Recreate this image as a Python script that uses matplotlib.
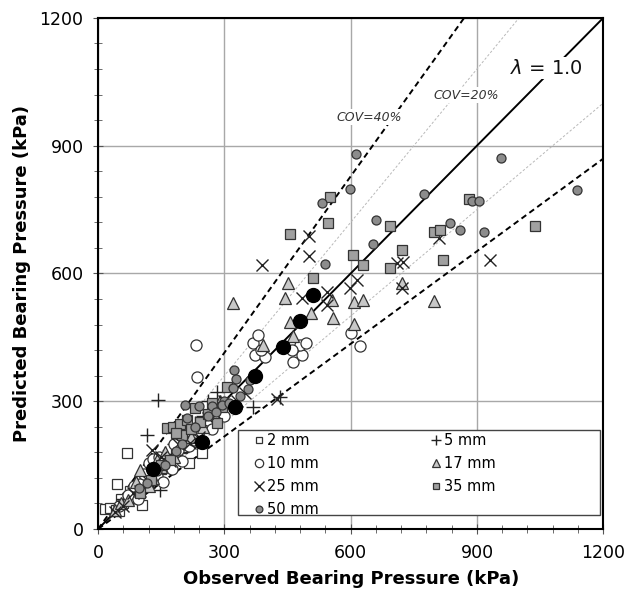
import numpy as np
import matplotlib.pyplot as plt
from matplotlib.ticker import MultipleLocator
from matplotlib.patches import Rectangle

# observed (x) / predicted (y) bearing pressure, kPa, per settlement level
x_2mm = [17, 29, 43, 50, 60, 44, 68, 104, 80, 95, 115, 130, 150, 170, 185, 200, 215, 246, 230, 140, 75, 55]
y_2mm = [46, 49, 44, 43, 60, 105, 179, 56, 75, 85, 100, 125, 140, 165, 175, 190, 154, 178, 205, 150, 90, 70]

x_5mm = [143, 116, 147, 282, 369, 432, 60, 75, 90, 100, 120, 160, 180, 190, 210, 230, 250, 200, 85, 262]
y_5mm = [303, 221, 92, 322, 287, 310, 70, 80, 95, 110, 125, 175, 200, 215, 230, 250, 265, 180, 75, 300]

x_10mm = [233, 234, 368, 381, 373, 397, 464, 484, 480, 494, 600, 623, 388, 460,
          50, 70, 85, 100, 110, 120, 130, 145, 160, 175, 190, 200, 215, 225, 240, 260, 270, 290, 300, 95, 140, 180, 155]
y_10mm = [432, 358, 436, 456, 409, 405, 393, 409, 432, 436, 460, 430, 420, 420,
          55, 80, 100, 105, 130, 155, 165, 170, 150, 140, 185, 160, 195, 210, 230, 255, 235, 280, 265, 70, 125, 200, 110]

x_17mm = [320, 450, 444, 555, 559, 608, 629, 608, 505, 455, 463, 391, 797, 722,
          40, 55, 71, 90, 100, 139, 120, 160, 180, 200, 220, 250, 270, 290, 150, 130]
y_17mm = [531, 577, 542, 538, 495, 534, 538, 481, 506, 485, 452, 432, 535, 577,
          45, 60, 68, 110, 139, 162, 100, 180, 170, 225, 215, 240, 290, 300, 145, 120]

x_25mm = [500, 500, 389, 811, 930, 710, 725, 722, 615, 599, 543, 543, 484,
          40, 60, 84, 100, 127, 150, 170, 190, 219, 240, 260, 280, 300, 330, 350, 120, 425]
y_25mm = [687, 640, 620, 683, 632, 624, 628, 565, 585, 565, 557, 526, 542,
          40, 55, 84, 90, 186, 170, 160, 200, 201, 215, 260, 270, 300, 300, 320, 110, 305]

x_35mm = [551, 547, 455, 694, 605, 629, 694, 722, 797, 813, 819, 880, 1038, 510,
          100, 163, 179, 195, 211, 242, 282, 294, 306, 171, 150, 125, 200, 220, 260, 230, 185, 270]
y_35mm = [780, 719, 692, 712, 643, 619, 612, 654, 697, 702, 632, 775, 712, 589,
          84, 236, 240, 246, 256, 252, 250, 287, 333, 162, 150, 115, 220, 235, 270, 285, 225, 295]

x_50mm = [613, 531, 599, 660, 775, 958, 888, 904, 835, 860, 917, 653, 539, 1137,
          98, 116, 185, 207, 240, 270, 211, 322, 328, 360, 337, 357, 300, 160, 140, 200, 230, 260, 280, 320, 295, 310]
y_50mm = [880, 765, 798, 726, 787, 870, 771, 771, 718, 702, 698, 669, 622, 796,
          96, 109, 182, 291, 289, 289, 260, 373, 352, 350, 312, 328, 300, 150, 135, 200, 240, 265, 275, 330, 290, 295]

# black filled circles (mean values)
x_mean = [131, 246, 326, 373, 439, 480, 510]
y_mean = [140, 205, 286, 359, 428, 489, 549]

lam40_hi, lam40_lo = 1.38, 1 / 1.38
lam20_hi, lam20_lo = 1.2, 1 / 1.2

fig = plt.figure(figsize=(6.29, 5.98), dpi=100)
ax = fig.add_axes([0.156, 0.1154, 0.803, 0.8546])

# reference lines
ax.plot([0, 1200 / lam20_hi], [0, 1200], color='#b8b8b8', lw=0.7, ls=(0, (2.5, 2)), zorder=2)
ax.plot([0, 1200], [0, 1200 * lam20_lo], color='#b8b8b8', lw=0.7, ls=(0, (2.5, 2)), zorder=2)
ax.plot([0, 1200 / lam40_hi], [0, 1200], color='black', lw=1.4, ls=(0, (3, 2)), zorder=2)
ax.plot([0, 1200], [0, 1200 * lam40_lo], color='black', lw=1.4, ls=(0, (3, 2)), zorder=2)
ax.plot([0, 1200], [0, 1200], color='black', lw=1.4, zorder=2)

ms = 6.5
ax.plot(x_2mm, y_2mm, 's', ms=ms, mfc='white', mec='#333333', mew=0.9, ls='none', label='2 mm', zorder=3)
ax.plot(x_5mm, y_5mm, '+', ms=10, mec='#222222', mew=1.0, ls='none', label='5 mm', zorder=3)
ax.plot(x_10mm, y_10mm, 'o', ms=8, mfc='white', mec='#333333', mew=0.9, ls='none', label='10 mm', zorder=3)
ax.plot(x_17mm, y_17mm, '^', ms=8, mfc='#c8c8c8', mec='#333333', mew=0.9, ls='none', label='17 mm', zorder=3)
ax.plot(x_25mm, y_25mm, 'x', ms=9, mec='#222222', mew=1.0, ls='none', label='25 mm', zorder=3)
ax.plot(x_35mm, y_35mm, 's', ms=ms, mfc='#a0a0a0', mec='#333333', mew=0.9, ls='none', label='35 mm', zorder=3)
ax.plot(x_50mm, y_50mm, 'o', ms=ms, mfc='#8c8c8c', mec='#333333', mew=0.9, ls='none', label='50 mm', zorder=3)
ax.plot(x_mean, y_mean, 'o', ms=10, mfc='black', mec='black', ls='none', zorder=4)

ax.set_xlim(0, 1200)
ax.set_ylim(0, 1200)
ax.xaxis.set_major_locator(MultipleLocator(300))
ax.yaxis.set_major_locator(MultipleLocator(300))
ax.xaxis.set_minor_locator(MultipleLocator(60))
ax.yaxis.set_minor_locator(MultipleLocator(60))
ax.grid(True, which='major', color='#a8a8a8', lw=1.0, zorder=0)
ax.set_axisbelow(True)
ax.tick_params(which='both', direction='inout', labelsize=12.5, color='#555555')
ax.tick_params(which='major', length=7, pad=7)
ax.tick_params(which='minor', length=6)
for sp in ax.spines.values():
    sp.set_linewidth(1.5)

ax.set_xlabel('Observed Bearing Pressure (kPa)', fontsize=13, fontweight='bold', labelpad=6)
ax.set_ylabel('Predicted Bearing Pressure (kPa)', fontsize=13, fontweight='bold', labelpad=6)

box = dict(facecolor='white', edgecolor='none', pad=1)
ax.text(645, 967, 'COV=40%', fontsize=9, style='italic', color='#333333', ha='center', va='center', bbox=box, zorder=5)
ax.text(874, 1019, 'COV=20%', fontsize=9, style='italic', color='#333333', ha='center', va='center', bbox=box, zorder=5)
ax.text(1066, 1082, r'$\lambda$ = 1.0', fontsize=14, color='#111111', ha='center', va='center', bbox=box, zorder=5)

# legend box
ax.add_patch(Rectangle((0.277, 0.027), 0.717, 0.167, transform=ax.transAxes,
                       facecolor='white', edgecolor='#444444', lw=1.0, zorder=5))
h, l = ax.get_legend_handles_labels()
order = [0, 2, 4, 6, 1, 3, 5]
leg = ax.legend([h[i] for i in order], [l[i] for i in order], ncol=2, loc='upper left',
                bbox_to_anchor=(0.309, 0.187), frameon=False, fontsize=10.5,
                handlelength=0.6, handletextpad=0.3, borderpad=0, borderaxespad=0,
                labelspacing=0.55, columnspacing=7.7, markerscale=0.75)
leg.set_zorder(6)

fig.savefig('out.png', dpi=100)
